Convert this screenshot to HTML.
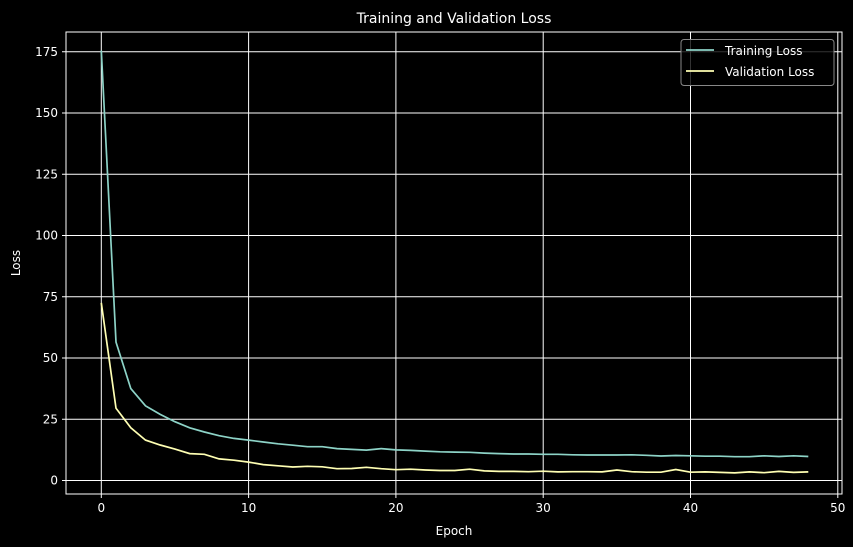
<!DOCTYPE html>
<html><head><meta charset="utf-8"><style>
html,body{margin:0;padding:0;background:#000;}
svg{display:block;font-family:"DejaVu Sans","Liberation Sans",sans-serif;}
</style></head><body>
<svg id="s" width="853" height="547" viewBox="0 0 853 547" xmlns="http://www.w3.org/2000/svg">
<rect width="853" height="547" fill="#000"/>
<g id="grid" stroke="#fff" stroke-width="1"></g>
<g id="ticks" fill="#fff" font-size="12"></g>
<polyline id="tr" fill="none" stroke="#8dd3c7" stroke-width="1.7"/>
<polyline id="va" fill="none" stroke="#ffffb3" stroke-width="1.7"/>
<rect x="66" y="32" width="776" height="462" fill="none" stroke="#fff" stroke-width="1"/>
<text x="454" y="23" fill="#fff" font-size="14" text-anchor="middle">Training and Validation Loss</text>
<text x="454" y="535" fill="#fff" font-size="12" text-anchor="middle">Epoch</text>
<text x="20" y="263" fill="#fff" font-size="12" text-anchor="middle" transform="rotate(-90 20 263)">Loss</text>
<rect x="681" y="39.5" width="153" height="46" rx="3" fill="#000" fill-opacity="0.8" stroke="#888" stroke-width="1"/>
<line x1="686" y1="50" x2="714" y2="50" stroke="#8dd3c7" stroke-width="1.7"/>
<line x1="686" y1="71" x2="714" y2="71" stroke="#ffffb3" stroke-width="1.7"/>
<text x="725" y="55" fill="#fff" font-size="12">Training Loss</text>
<text x="725" y="76" fill="#fff" font-size="12">Validation Loss</text>
</svg>
<script>
var X=function(e){return 101.3+e*14.73;}, Y=function(v){return 480.5-v*2.45;};
var tr=[175.5,56.5,37.5,30.5,27,24,21.5,19.8,18.3,17.2,16.5,15.7,15,14.4,13.8,13.8,13,12.7,12.4,13,12.5,12.3,12,11.7,11.6,11.5,11.2,11,10.8,10.8,10.7,10.7,10.5,10.4,10.4,10.4,10.5,10.3,10,10.2,10.1,9.9,9.9,9.7,9.7,10.1,9.8,10.1,9.8];
var va=[72.5,29.5,21.5,16.5,14.5,12.8,11,10.7,8.8,8.3,7.5,6.5,6,5.5,5.8,5.6,4.8,4.9,5.4,4.8,4.4,4.6,4.3,4.1,4.1,4.6,3.9,3.7,3.7,3.6,3.8,3.5,3.6,3.6,3.5,4.3,3.6,3.4,3.4,4.5,3.4,3.5,3.3,3.1,3.5,3.2,3.7,3.3,3.5];
function pts(a){return a.map(function(v,i){return X(i).toFixed(1)+","+Y(v).toFixed(1);}).join(" ");}
document.getElementById("tr").setAttribute("points",pts(tr));
document.getElementById("va").setAttribute("points",pts(va));
var g=document.getElementById("grid"),t=document.getElementById("ticks"),h="",tk="";
for(var e=0;e<=50;e+=10){var x=X(e);h+='<line x1="'+x+'" y1="32" x2="'+x+'" y2="494"/><line x1="'+x+'" y1="494" x2="'+x+'" y2="498"/>';tk+='<text x="'+x+'" y="512" text-anchor="middle">'+e+'</text>';}
for(var v=0;v<=175;v+=25){var y=Y(v);h+='<line x1="66" y1="'+y+'" x2="842" y2="'+y+'"/><line x1="62" y1="'+y+'" x2="66" y2="'+y+'"/>';tk+='<text x="58" y="'+(y+4)+'" text-anchor="end">'+v+'</text>';}
g.innerHTML=h;t.innerHTML=tk;
</script>
</body></html>
